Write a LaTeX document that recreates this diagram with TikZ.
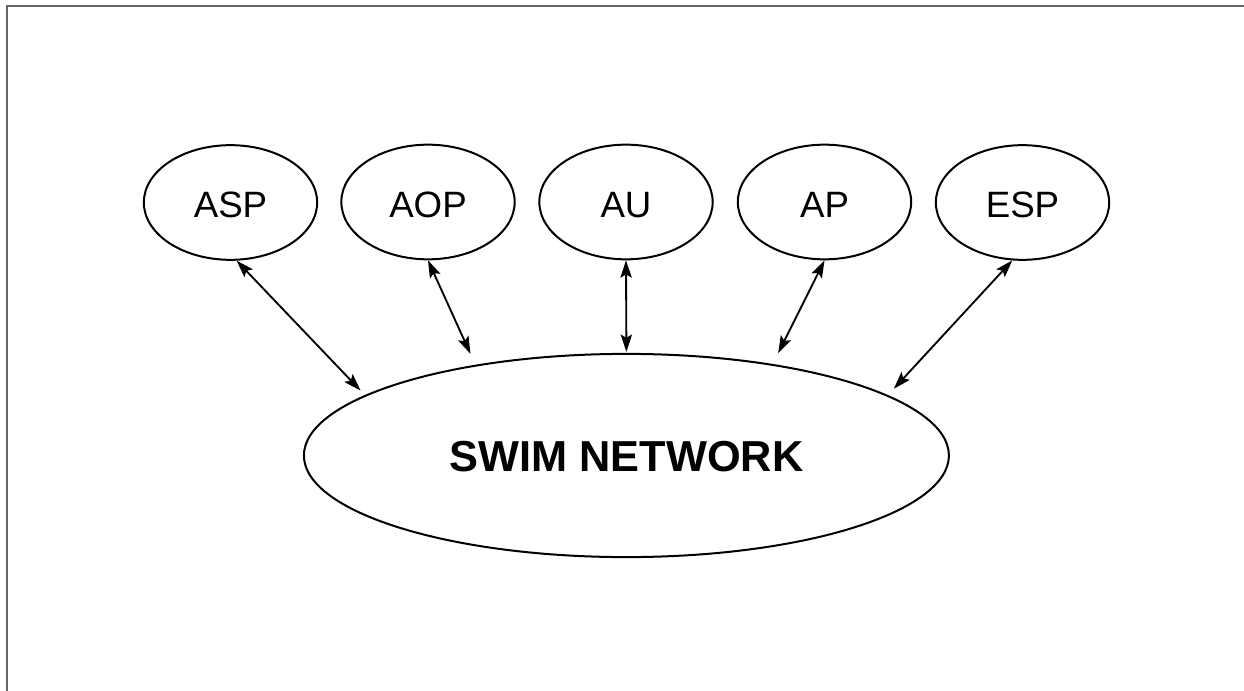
\documentclass[tikz,border=0pt]{standalone}
\usepackage{fontspec}
\setmainfont{Liberation Sans}
\usetikzlibrary{shapes.geometric, arrows.meta}

\begin{document}
\begin{tikzpicture}[x=0.75pt, y=-0.75pt,
    unit/.style={ellipse, draw, line width=1.5pt, minimum width=130pt, minimum height=86pt, text height=23pt, text depth=0pt, font=\fontsize{27.5}{30}\selectfont},
    link/.style={line width=1.4pt, {Stealth[length=13pt, width=8.5pt, inset=2.5pt]}-{Stealth[length=13pt, width=8.5pt, inset=2.5pt]}}]
\useasboundingbox (0,0) rectangle (1244,691);
\draw[line width=1.5pt, black!60] (6.5,691) -- (6.5,6.5) -- (1244,6.5);
% the five parties
\node[unit] (asp) at (230.5,202.5) {ASP};
\node[unit] (aop) at (428,202) {AOP};
\node[unit] (au) at (626,202) {AU};
\node[unit] (ap) at (824.5,202) {AP};
\node[unit] (esp) at (1022.5,202.5) {ESP};
\node[ellipse, draw, line width=1.5pt, minimum width=483.75pt, minimum height=152.4pt, text height=24pt, text depth=0pt, font=\bfseries\fontsize{32.5}{36}\selectfont] (net) at (626.4,455.5) {SWIM NETWORK};
% links to the network
\draw[link, shorten >=4.7pt] (asp.276) -- (net.167);
\draw[link, shorten >=9pt] (aop.270) -- (net.149);
\draw[link, shorten >=0.8pt] (au.270) -- (net.90);
\draw[link, shorten >=9pt] (ap.270) -- (net.32);
\draw[link, shorten >=6.5pt] (esp.260) -- (net.13);
\end{tikzpicture}
\end{document}
